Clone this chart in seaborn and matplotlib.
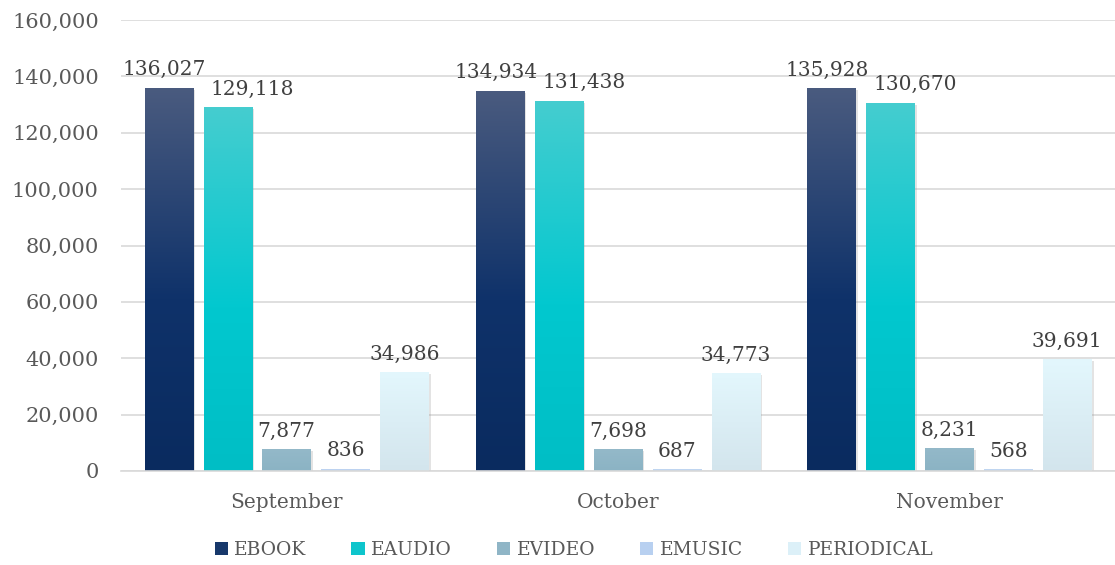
"""Monthly digital circulation by format - grouped bar chart."""

import matplotlib
matplotlib.use("Agg")
import matplotlib.patheffects as pe
import matplotlib.pyplot as plt
import numpy as np
import pandas as pd
import seaborn as sns
from matplotlib.colors import LinearSegmentedColormap
from matplotlib.patches import Patch
from matplotlib.ticker import FuncFormatter

months = ["September", "October", "November"]
formats = ["EBOOK", "EAUDIO", "EVIDEO", "EMUSIC", "PERIODICAL"]
ebook = [136027, 134934, 135928]
eaudio = [129118, 131438, 130670]
evideo = [7877, 7698, 8231]
emusic = [836, 687, 568]
periodical = [34986, 34773, 39691]

# stop del gradiente verticale (dal basso verso l'alto)
grad_colors = {
    "EBOOK": [(0.0, "#0a2b5f"), (0.45, "#0f326a"), (1.0, "#4a5b7f")],
    "EAUDIO": [(0.0, "#00bec5"), (0.45, "#02c8cf"), (1.0, "#45cdcf")],
    "EVIDEO": [(0.0, "#8bb3c4"), (1.0, "#94b9c9")],
    "EMUSIC": [(0.0, "#b4cdee"), (1.0, "#c4d8f2")],
    "PERIODICAL": [(0.0, "#d3e5ed"), (1.0, "#e3f7fd")],
}
legend_colors = ["#17386b", "#0ec5cc", "#8fb5c6", "#b8d0f0", "#dcf0f8"]
# spostamento orizzontale etichette (punti), come fa Excel per evitare sovrapposizioni
label_shift = {"EBOOK": -3, "EAUDIO": 18}

df = pd.DataFrame(
    {
        "month": np.repeat(months, len(formats)),
        "format": formats * len(months),
        "value": [v for trio in zip(ebook, eaudio, evideo, emusic, periodical) for v in trio],
    }
)

sns.set_style("white")
plt.rcParams["font.family"] = ["DejaVu Serif"]

fig = plt.figure(figsize=(11.15, 5.65), dpi=100)
ax = fig.add_axes([121 / 1115, 94 / 565, 994 / 1115, 451 / 565])

sns.barplot(
    data=df, x="month", y="value", hue="format", hue_order=formats,
    order=months, palette=legend_colors, width=0.89, gap=0.18,
    ax=ax, legend=False, errorbar=None,
)

ax.set_ylim(0, 160000)
ax.set_yticks(np.arange(0, 160001, 20000))
ax.yaxis.set_major_formatter(FuncFormatter(lambda v, _: f"{int(v):,}"))
ax.grid(axis="y", color="#d9d9d9", linewidth=1.2)
ax.set_axisbelow(True)
for side in ["left", "right", "top"]:
    ax.spines[side].set_visible(False)
ax.spines["bottom"].set_color("#d9d9d9")
ax.spines["bottom"].set_linewidth(1.2)
ax.tick_params(axis="y", length=0, labelsize=15, colors="#595959", pad=16)
ax.tick_params(axis="x", length=0, labelsize=14.5, colors="#595959", pad=16)
ax.set_xlabel("")
ax.set_ylabel("")

# Gradiente verticale sulle barre + leggera ombra
grad = np.linspace(0, 1, 256).reshape(-1, 1)
shadow = [pe.SimplePatchShadow(offset=(1.5, -1.5), shadow_rgbFace="#909090", alpha=0.25), pe.Normal()]
for fmt, container in zip(formats, ax.containers):
    cmap = LinearSegmentedColormap.from_list(fmt, grad_colors[fmt])
    for bar in container:
        x0, y0 = bar.get_x(), bar.get_y()
        w, h = bar.get_width(), bar.get_height()
        bar.set_edgecolor("none")
        bar.set_zorder(1.5)
        bar.set_path_effects(shadow)
        im = ax.imshow(
            grad, cmap=cmap, origin="lower", aspect="auto",
            extent=[x0, x0 + w, y0, y0 + h], zorder=2,
        )
        im.set_clip_path(bar)
    labels = ax.bar_label(
        container, labels=[f"{int(b.get_height()):,}" for b in container],
        padding=6, fontsize=14.5, color="#404040",
    )
    for lab in labels:
        lab.xyann = (label_shift.get(fmt, 0), 6)

ax.set_xlim(-0.5, 2.5)
ax.set_ylim(0, 160000)

handles = [Patch(facecolor=c, edgecolor="none") for c in legend_colors]
fig.legend(
    handles, formats, loc="center", bbox_to_anchor=(574 / 1115, 1 - 550 / 565),
    ncol=5, frameon=False, fontsize=13.5, handlelength=0.7, handleheight=0.7,
    handletextpad=0.35, columnspacing=2.4, labelcolor="#595959",
)

fig.savefig("out.png", dpi=100)
